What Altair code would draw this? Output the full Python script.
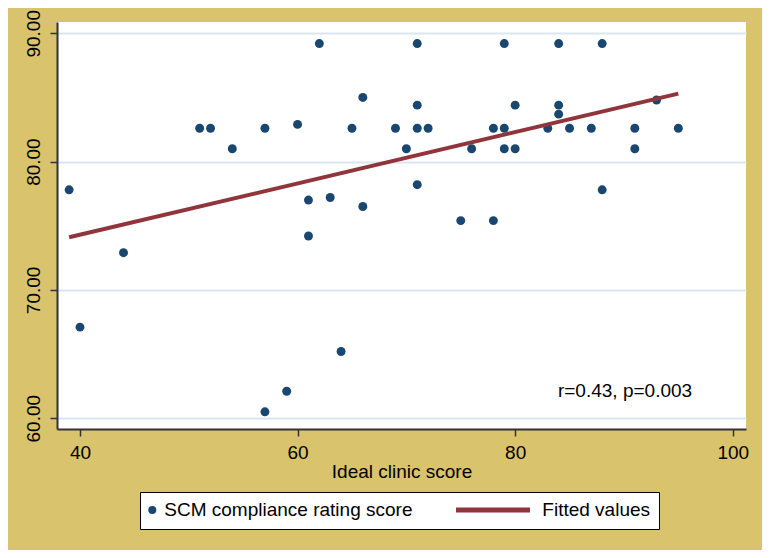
import altair as alt
import pandas as pd

# ---- data ----
ideal_clinic_score = [39, 40, 44, 51, 52, 54, 57, 57, 59, 60, 61, 61, 62, 63, 64, 65, 66, 66,
                      69, 70, 71, 71, 71, 71, 72, 75, 76, 78, 78, 79, 79, 79, 80, 80, 83, 84,
                      84, 84, 85, 87, 88, 88, 91, 91, 93, 95]
scm_rating = [77.8, 67.1, 72.9, 82.6, 82.6, 81.0, 82.6, 60.5, 62.1, 82.9, 77.0, 74.2, 89.2,
              77.2, 65.2, 82.6, 85.0, 76.5, 82.6, 81.0, 89.2, 84.4, 82.6, 78.2, 82.6, 75.4,
              81.0, 82.6, 75.4, 89.2, 82.6, 81.0, 84.4, 81.0, 82.6, 89.2, 84.4, 83.7, 82.6,
              82.6, 89.2, 77.8, 82.6, 81.0, 84.8, 82.6]
fit_x = [39, 95]
fit_y = [74.1, 85.3]
series_points = "SCM compliance rating score"
series_fit = "Fitted values"
x_ticks = [40, 60, 80, 100]
y_ticks = [60, 70, 80, 90]
annot_x = [90.1]
annot_y = [61.67]
annot_text = ["r=0.43, p=0.003"]

NAVY = "#1A476F"
MAROON = "#90353B"
BG = "#D9C36C"
FONT = "Liberation Sans"
AXC = "#333333"

pts = pd.DataFrame({"x": ideal_clinic_score, "y": scm_rating, "s_pts": series_points})
fit = pd.DataFrame({"x": fit_x, "y": fit_y, "s_fit": series_fit})
ann = pd.DataFrame({"x": annot_x, "y": annot_y, "t": annot_text})

# legend A: boxed, holds the point entry; its label is padded with no-break spaces
# (closed by a zero-width space so it is not trimmed) so the box spans both entries
legend_pts = alt.Legend(
    title=None, orient="none", legendX=83, legendY=470, direction="horizontal",
    fillColor="white", strokeColor="black", padding=8.5, zindex=1,
    labelFont=FONT, labelFontSize=19, labelColor="black", labelLimit=800, labelOffset=2.5,
    labelExpr="datum.label + '" + "\u00a0" * 45 + "\u200b'",
    symbolType="circle", symbolSize=64, symbolStrokeWidth=0, symbolOffset=-5.7,
    symbolFillColor=NAVY, symbolOpacity=1,
)
# legend B: no box, the fitted line entry drawn on top of legend A
legend_fit = alt.Legend(
    title=None, orient="none", legendX=396.5, legendY=448.5, direction="horizontal",
    padding=0, zindex=2,
    labelFont=FONT, labelFontSize=19, labelColor="black", labelLimit=400, labelOffset=9.8,
    symbolType="stroke", symbolSize=5476, symbolStrokeWidth=5, symbolOpacity=1,
)

x_enc = alt.X("x:Q", scale=alt.Scale(domain=[37.886, 101.22], nice=False, zero=False),
              axis=alt.Axis(values=x_ticks, format="d", title="Ideal clinic score", grid=False,
                            labelFont=FONT, labelFontSize=19, labelColor="black",
                            labelBaseline="alphabetic", labelPadding=22.8, labelFlush=False,
                            tickSize=7, tickColor=AXC, tickWidth=1.5,
                            domainColor=AXC, domainWidth=2,
                            titleFont=FONT, titleFontSize=19, titleFontWeight="normal",
                            titleColor="black", titleY=48.2, titleBaseline="alphabetic"))
y_enc = alt.Y("y:Q", scale=alt.Scale(domain=[59.16, 90.88], nice=False, zero=False),
              axis=alt.Axis(values=y_ticks, format=".2f", title=None, grid=True,
                            gridColor="#DCE6EE", gridWidth=2,
                            labelFont=FONT, labelFontSize=19, labelColor="black",
                            labelAngle=270, labelAlign="center", labelBaseline="alphabetic",
                            labelPadding=11, labelFlush=False,
                            tickSize=7, tickColor=AXC, tickWidth=1.5,
                            domainColor=AXC, domainWidth=2))

points = alt.Chart(pts).mark_circle(size=80, opacity=1).encode(
    x=x_enc, y=y_enc,
    fill=alt.Fill("s_pts:N", scale=alt.Scale(domain=[series_points], range=[NAVY]), legend=legend_pts),
)
line = alt.Chart(fit).mark_line(strokeWidth=4).encode(
    x="x:Q", y="y:Q",
    stroke=alt.Stroke("s_fit:N", scale=alt.Scale(domain=[series_fit], range=[MAROON]), legend=legend_fit),
)
text = alt.Chart(ann).mark_text(font=FONT, fontSize=19, color="black", align="center",
                                baseline="alphabetic").encode(x="x:Q", y="y:Q", text="t:N")

chart = alt.layer(points, line, text).properties(
    width=689, height=407,
    autosize=alt.AutoSizeParams(type="none"),
    padding={"left": 49, "top": 14, "right": 16, "bottom": 121},
    background=BG,
).configure_view(stroke=None, fill="white")

chart.save("out.html", embed_options={"renderer": "svg", "actions": False})
